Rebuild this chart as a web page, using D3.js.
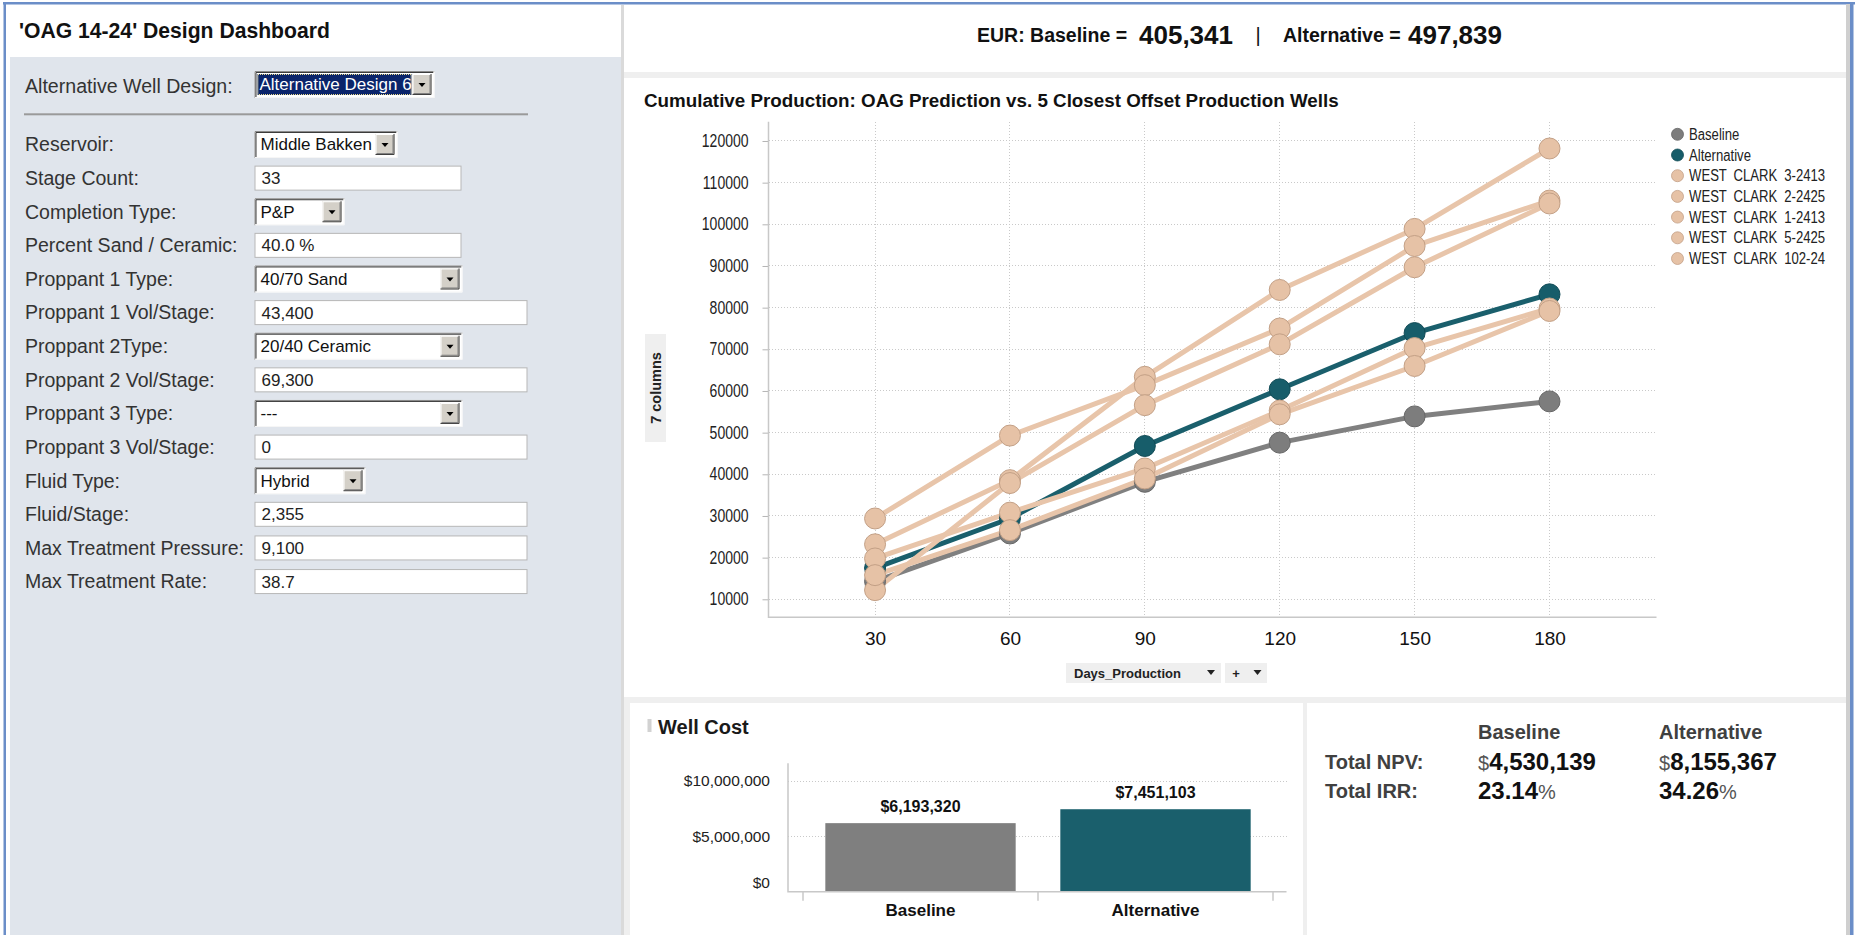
<!DOCTYPE html>
<html>
<head>
<meta charset="utf-8">
<script src="https://cdn.jsdelivr.net/npm/d3@7"></script>
<style>
  html, body { margin: 0; padding: 0; background: #fff; overflow: hidden; }
  svg { display: block; font-family: "Liberation Sans", Arial, sans-serif; }
</style>
</head>
<body>
<svg id="dash" width="1858" height="935"></svg>
<script>
// ---------------- data ----------------
const days = [30, 60, 90, 120, 150, 180];
const baselineCum    = [14300, 25800, 38200, 47600, 53900, 57500];
const alternativeCum = [17500, 29400, 46800, 60400, 73900, 83200];
const wellNames = ["WEST CLARK 3-2413", "WEST CLARK 2-2425", "WEST CLARK 1-2413", "WEST CLARK 5-2425", "WEST CLARK 102-24"];
const wc3_2413  = [23200, 38600, 63400, 84250, 98900, 118200];
const wc2_2425  = [29400, 49300, 61400, 75000, 94800, 105700];
const wc1_2413  = [12200, 37900, 56600, 71200, 89700, 105000];
const wc5_2425  = [19800, 30800, 41400, 55300, 70300, 79800];
const wc102_24  = [15800, 26600, 39000, 54400, 66000, 79200];
const yTicks = [10000, 20000, 30000, 40000, 50000, 60000, 70000, 80000, 90000, 100000, 110000, 120000];

const costCategories = ["Baseline", "Alternative"];
const wellCost = [6193320, 7451103];
const costTicks = [0, 5000000, 10000000];

const eurBaseline = 405341;
const eurAlternative = 497839;
const npvValues = [4530139, 8155367];
const irrValues = [23.14, 34.26];

const designChoice = "Alternative Design 6";
const formLabels = ["Reservoir:", "Stage Count:", "Completion Type:", "Percent Sand / Ceramic:",
  "Proppant 1 Type:", "Proppant 1 Vol/Stage:", "Proppant 2Type:", "Proppant 2 Vol/Stage:",
  "Proppant 3 Type:", "Proppant 3 Vol/Stage:", "Fluid Type:", "Fluid/Stage:",
  "Max Treatment Pressure:", "Max Treatment Rate:"];
const formValues = ["Middle Bakken", "33", "P&P", "40.0 %", "40/70 Sand", "43,400", "20/40 Ceramic",
  "69,300", "---", "0", "Hybrid", "2,355", "9,100", "38.7"];
const formKinds = ["select", "input", "select", "input", "select", "input", "select",
  "input", "select", "input", "select", "input", "input", "input"];

// ---------------- helpers ----------------
const W = 1858, H = 935;
const svg = d3.select("#dash");
const NARROW = '"Liberation Sans Narrow", "Liberation Sans", sans-serif';

// is a narrow face installed? otherwise squeeze the regular glyphs
const probeA = svg.append("text").attr("font-family", NARROW).attr("font-size", 20).text("0000000000");
const probeB = svg.append("text").attr("font-family", '"Liberation Sans", sans-serif').attr("font-size", 20).text("0000000000");
const hasNarrow = probeA.node().getComputedTextLength() < 0.93 * probeB.node().getComputedTextLength();
probeA.remove(); probeB.remove();

function narrowText(g, x, y, txt, size, anchor, fill, weight) {
  const t = g.append("text").attr("font-size", size).attr("fill", fill || "#222")
    .attr("text-anchor", anchor || "start").attr("font-weight", weight || "normal").text(txt);
  if (hasNarrow) {
    t.attr("font-family", NARROW).attr("x", x).attr("y", y);
  } else {
    t.attr("transform", `translate(${x},${y}) scale(0.82,1)`);
  }
  return t;
}

function fitWidth(t, target) {
  const w = t.node().getComputedTextLength();
  const fs = parseFloat(t.attr("font-size"));
  t.attr("font-size", (fs * target / w).toFixed(2));
}

// ---------------- page frame ----------------
svg.append("rect").attr("width", W).attr("height", H).attr("fill", "#fff");
svg.append("rect").attr("x", 10).attr("y", 57).attr("width", 611).attr("height", H - 57).attr("fill", "#e0e5ec");
svg.append("rect").attr("x", 621).attr("y", 5).attr("width", 3).attr("height", H).attr("fill", "#dadada");
svg.append("rect").attr("x", 624).attr("y", 72).attr("width", 1224).attr("height", 6).attr("fill", "#efefef");
svg.append("rect").attr("x", 624).attr("y", 697).attr("width", 1224).attr("height", 6).attr("fill", "#efefef");
svg.append("rect").attr("x", 1303).attr("y", 697).attr("width", 4).attr("height", H - 697).attr("fill", "#efefef");
svg.append("rect").attr("x", 624).attr("y", 697).attr("width", 6).attr("height", H - 697).attr("fill", "#efefef");
// outer frame
svg.append("rect").attr("x", 3).attr("y", 2).attr("width", 1852).attr("height", 2.5).attr("fill", "#6b8ec8");
svg.append("rect").attr("x", 3.5).attr("y", 2).attr("width", 2.5).attr("height", H).attr("fill", "#6b8ec8");
svg.append("rect").attr("x", 1846).attr("y", 4).attr("width", 4).attr("height", H).attr("fill", "#cfcfcf");
svg.append("rect").attr("x", 1850).attr("y", 2).attr("width", 3.5).attr("height", H).attr("fill", "#6b8ec8");

// ---------------- left: design form ----------------
const form = svg.append("g");
const dashTitle = form.append("text").attr("x", 19).attr("y", 38).attr("font-size", 21)
  .attr("font-weight", "bold").attr("fill", "#111").text("'OAG 14-24' Design Dashboard");
fitWidth(dashTitle, 311);

form.append("text").attr("x", 25).attr("y", 85.7).attr("dy", "0.35em").attr("font-size", 19.6)
  .attr("fill", "#333").text("Alternative Well Design:");

function bevelSunken(g, x, y0, w, h) {
  g.append("rect").attr("x", x).attr("y", y0).attr("width", w).attr("height", h).attr("fill", "#fff");
  g.append("path").attr("d", `M${x + 0.5},${y0 + h}V${y0 + 0.5}H${x + w}`).attr("stroke", "#8a8a8a").attr("fill", "none");
  g.append("path").attr("d", `M${x + 1.5},${y0 + h - 1}V${y0 + 1.5}H${x + w - 1}`).attr("stroke", "#3c3c3c").attr("fill", "none");
  g.append("path").attr("d", `M${x + 0.5},${y0 + h - 0.5}H${x + w - 0.5}V${y0}`).attr("stroke", "#f6f6f6").attr("fill", "none");
}
function dropButton(g, bx, by, bw, bh) {
  g.append("rect").attr("x", bx).attr("y", by).attr("width", bw).attr("height", bh).attr("fill", "#d4d0c8");
  g.append("path").attr("d", `M${bx + 0.5},${by + bh}V${by + 0.5}H${bx + bw}`).attr("stroke", "#fff").attr("fill", "none");
  g.append("path").attr("d", `M${bx},${by + bh - 0.5}H${bx + bw - 0.5}V${by}`).attr("stroke", "#404040").attr("fill", "none");
  g.append("path").attr("d", `M${bx + 1},${by + bh - 1.5}H${bx + bw - 1.5}V${by + 1}`).attr("stroke", "#808080").attr("fill", "none");
  const cx = bx + bw / 2, cy = by + bh / 2 + 0.5;
  g.append("path").attr("d", `M${cx - 3.5},${cy - 2}h7l-3.5,4z`).attr("fill", "#000");
}

// highlighted design selector
{
  const x = 254.5, y0 = 71, w = 180, h = 27;
  bevelSunken(form, x, y0, w, h);
  form.append("rect").attr("x", x + 3).attr("y", y0 + 3).attr("width", w - 26).attr("height", h - 6).attr("fill", "#0a246a");
  form.append("rect").attr("x", x + 3.5).attr("y", y0 + 3.5).attr("width", w - 27).attr("height", h - 7)
    .attr("fill", "none").attr("stroke", "#e8d98a").attr("stroke-dasharray", "1,1");
  form.append("text").attr("x", x + 5).attr("y", y0 + h / 2).attr("dy", "0.35em").attr("font-size", 17)
    .attr("fill", "#fff").text(designChoice);
  dropButton(form, x + w - 22, y0 + 3, 19, h - 6);
}
form.append("rect").attr("x", 24).attr("y", 113.3).attr("width", 504).attr("height", 2).attr("fill", "#9a9a9a");

const fieldWidths = [143, 207, 90, 207, 208, 273, 208, 273, 208, 273, 111, 273, 273, 273];
formLabels.forEach((lab, i) => {
  const yc = 144.5 + i * 33.62;
  form.append("text").attr("x", 25).attr("y", yc).attr("dy", "0.35em").attr("font-size", 19.5)
    .attr("fill", "#333").text(lab);
  const x = 254.5, w = fieldWidths[i];
  if (formKinds[i] === "select") {
    const h = 27, y0 = yc - h / 2;
    bevelSunken(form, x, y0, w, h);
    dropButton(form, x + w - 22, y0 + 3, 19, h - 6);
    form.append("text").attr("x", x + 6).attr("y", yc).attr("dy", "0.35em").attr("font-size", 17)
      .attr("fill", "#111").text(formValues[i]);
  } else {
    const h = 25, y0 = yc - h / 2;
    form.append("rect").attr("x", x + 0.5).attr("y", y0 + 0.5).attr("width", w - 1).attr("height", h - 1)
      .attr("fill", "#fff").attr("stroke", "#b7b7b7");
    form.append("text").attr("x", x + 7).attr("y", yc).attr("dy", "0.35em").attr("font-size", 17)
      .attr("fill", "#222").text(formValues[i]);
  }
});

// ---------------- EUR header ----------------
const fmtInt = d3.format(",");
const eur = svg.append("g").attr("fill", "#111").attr("font-weight", "bold");
eur.append("text").attr("x", 977).attr("y", 42).attr("font-size", 19.5).text("EUR: Baseline =");
eur.append("text").attr("x", 1139).attr("y", 43.5).attr("font-size", 26).text(fmtInt(eurBaseline));
eur.append("text").attr("x", 1258).attr("y", 42).attr("font-size", 20).attr("font-weight", "normal")
  .attr("text-anchor", "middle").text("|");
eur.append("text").attr("x", 1283).attr("y", 42).attr("font-size", 19.5).text("Alternative =");
eur.append("text").attr("x", 1408).attr("y", 43.5).attr("font-size", 26).text(fmtInt(eurAlternative));

// ---------------- cumulative production line chart ----------------
const chartTitle = svg.append("text").attr("x", 644).attr("y", 107).attr("font-size", 15)
  .attr("font-weight", "bold").attr("fill", "#111")
  .text("Cumulative Production: OAG Prediction vs. 5 Closest Offset Production Wells");
fitWidth(chartTitle, 695);

const plot = { left: 768.5, right: 1656.5, top: 121.7, bottom: 617.3 };
const x = d3.scaleLinear().domain([6.3, 203.8]).range([plot.left, plot.right]);
const y = d3.scaleLinear().domain([5680, 124630]).range([plot.bottom, plot.top]);

const chart = svg.append("g");
// grid
chart.append("g").selectAll("line").data(yTicks).join("line")
  .attr("x1", plot.left).attr("x2", plot.right).attr("y1", d => y(d)).attr("y2", d => y(d))
  .attr("stroke", "#c9c9c9").attr("stroke-dasharray", "1,2").attr("shape-rendering", "crispEdges");
chart.append("g").selectAll("line").data(days).join("line")
  .attr("x1", d => x(d)).attr("x2", d => x(d)).attr("y1", plot.top).attr("y2", plot.bottom)
  .attr("stroke", "#c9c9c9").attr("stroke-dasharray", "1,2").attr("shape-rendering", "crispEdges");

// axes
const yAxis = chart.append("g").attr("transform", `translate(${plot.left},0)`)
  .call(d3.axisLeft(y).tickValues(yTicks).tickSize(6).tickPadding(14).tickFormat(d3.format("d")));
yAxis.select(".domain").remove();
yAxis.selectAll(".tick line").attr("stroke", "#b5b5b5");
yAxis.selectAll(".tick text").each(function () {
  const t = d3.select(this);
  t.attr("font-size", 17.5).attr("fill", "#222").attr("font-family", null);
  if (hasNarrow) {
    t.attr("font-family", NARROW);
  } else {
    t.attr("transform", "translate(-20,0) scale(0.8,1)").attr("x", 0);
  }
});
const xAxis = chart.append("g").attr("transform", `translate(0,${plot.bottom})`)
  .call(d3.axisBottom(x).tickValues(days).tickSize(0).tickPadding(14));
xAxis.select(".domain").remove();
xAxis.selectAll(".tick text").attr("font-size", 19).attr("fill", "#111").attr("font-family", null);

chart.append("path").attr("d", `M${plot.left},${plot.top}V${plot.bottom}H${plot.right}`)
  .attr("fill", "none").attr("stroke", "#c8c8c8").attr("stroke-width", 1.5);

// series
const peach = { line: "#e8c5aa", fill: "#e6c2a6", stroke: "#c3a086" };
const series = [
  { name: "Baseline", values: baselineCum, line: "#808080", fill: "#7d7d7d", stroke: "#676767" },
  { name: "Alternative", values: alternativeCum, line: "#1a5f6c", fill: "#175d6a", stroke: "#114b56" },
  { name: wellNames[0], values: wc3_2413, ...peach },
  { name: wellNames[1], values: wc2_2425, ...peach },
  { name: wellNames[2], values: wc1_2413, ...peach },
  { name: wellNames[3], values: wc5_2425, ...peach },
  { name: wellNames[4], values: wc102_24, ...peach }
];
const line = d3.line().x((d, i) => x(days[i])).y(d => y(d));
series.forEach(s => {
  chart.append("path").attr("d", line(s.values)).attr("fill", "none")
    .attr("stroke", s.line).attr("stroke-width", 5).attr("stroke-linejoin", "round");
});
series.forEach(s => {
  chart.append("g").selectAll("circle").data(s.values).join("circle")
    .attr("cx", (d, i) => x(days[i])).attr("cy", d => y(d)).attr("r", 10.5)
    .attr("fill", s.fill).attr("stroke", s.stroke).attr("stroke-width", 1);
});

// legend
const legend = svg.append("g");
series.forEach((s, i) => {
  const yy = 134.3 + i * 20.7;
  legend.append("circle").attr("cx", 1677.5).attr("cy", yy).attr("r", 6)
    .attr("fill", s.fill).attr("stroke", s.stroke).attr("stroke-width", 0.8);
  narrowText(legend, 1689, yy + 5.5, s.name, 16, "start", "#222").attr("word-spacing", 4);
});

// y title tab
svg.append("rect").attr("x", 645).attr("y", 334).attr("width", 21).attr("height", 108).attr("fill", "#efefef");
svg.append("text").attr("transform", "translate(660.5,388) rotate(-90)").attr("text-anchor", "middle")
  .attr("font-size", 14.5).attr("font-weight", "bold").attr("fill", "#222").text("7 columns");

// x selector tabs
svg.append("rect").attr("x", 1066).attr("y", 663).attr("width", 155).attr("height", 20).attr("fill", "#efefef");
svg.append("text").attr("x", 1074).attr("y", 677.5).attr("font-size", 13).attr("font-weight", "bold")
  .attr("fill", "#222").text("Days_Production");
svg.append("path").attr("d", "M1207,670h8l-4,5z").attr("fill", "#222");
svg.append("rect").attr("x", 1225).attr("y", 663).attr("width", 42).attr("height", 20).attr("fill", "#efefef");
svg.append("text").attr("x", 1236).attr("y", 677.5).attr("font-size", 13).attr("font-weight", "bold")
  .attr("text-anchor", "middle").attr("fill", "#222").text("+");
svg.append("path").attr("d", "M1253.5,670h8l-4,5z").attr("fill", "#222");

// ---------------- well cost bar chart ----------------
const cost = svg.append("g");
cost.append("rect").attr("x", 647.5).attr("y", 719).attr("width", 4).attr("height", 13).attr("fill", "#d2d2d2");
cost.append("text").attr("x", 658).attr("y", 733.5).attr("font-size", 20).attr("font-weight", "bold")
  .attr("fill", "#1a1a1a").text("Well Cost");

const cb = { left: 788, right: 1286.5, top: 763.3, bottom: 891.7 };
const cy = d3.scaleLinear().domain([0, 11600000]).range([cb.bottom, cb.top]);
const cx = d3.scaleBand().domain(costCategories).range([803, 1273]).paddingInner(0.19).paddingOuter(0.095);

cost.append("g").selectAll("line").data(costTicks.filter(d => d > 0)).join("line")
  .attr("x1", cb.left).attr("x2", cb.right).attr("y1", d => cy(d)).attr("y2", d => cy(d))
  .attr("stroke", "#c9c9c9").attr("stroke-dasharray", "1,2").attr("shape-rendering", "crispEdges");

const cyAxis = cost.append("g").attr("transform", `translate(${cb.left},0)`)
  .call(d3.axisLeft(cy).tickValues(costTicks).tickSize(0).tickPadding(18).tickFormat(d => "$" + fmtInt(d)));
cyAxis.select(".domain").remove();
cyAxis.selectAll(".tick text").attr("font-size", 15.5).attr("fill", "#222").attr("font-family", null);
cyAxis.selectAll(".tick").filter(d => d === 0).select("text").attr("dy", "-0.25em");

const barColors = ["#7f7f7f", "#1a5f6c"];
cost.append("g").selectAll("rect").data(wellCost).join("rect")
  .attr("x", (d, i) => cx(costCategories[i])).attr("width", cx.bandwidth())
  .attr("y", d => cy(d)).attr("height", d => cb.bottom - cy(d))
  .attr("fill", (d, i) => barColors[i]);
cost.append("g").selectAll("text").data(wellCost).join("text")
  .attr("x", (d, i) => cx(costCategories[i]) + cx.bandwidth() / 2).attr("y", d => cy(d) - 11)
  .attr("text-anchor", "middle").attr("font-size", 16).attr("font-weight", "bold").attr("fill", "#111")
  .text(d => "$" + fmtInt(d));

cost.append("path").attr("d", `M${cb.left},${cb.top}V${cb.bottom}H${cb.right}`)
  .attr("fill", "none").attr("stroke", "#c8c8c8").attr("stroke-width", 1.5);
const bandEdges = [803, 1038, 1273];
cost.append("g").selectAll("line").data(bandEdges).join("line")
  .attr("x1", d => d).attr("x2", d => d).attr("y1", cb.bottom).attr("y2", cb.bottom + 9)
  .attr("stroke", "#c8c8c8").attr("stroke-width", 1.5);
cost.append("g").selectAll("text").data(costCategories).join("text")
  .attr("x", d => cx(d) + cx.bandwidth() / 2).attr("y", 916)
  .attr("text-anchor", "middle").attr("font-size", 17).attr("font-weight", "bold").attr("fill", "#111")
  .text(d => d);

// ---------------- NPV / IRR summary ----------------
const sum = svg.append("g").attr("font-weight", "bold");
const colX = [1478, 1659];
costCategories.forEach((c, i) => {
  sum.append("text").attr("x", colX[i]).attr("y", 739).attr("font-size", 20).attr("fill", "#404040").text(c);
  const npvT = sum.append("text").attr("x", colX[i]).attr("y", 770);
  npvT.append("tspan").attr("font-size", 20).attr("font-weight", "normal").attr("fill", "#555").text("$");
  npvT.append("tspan").attr("font-size", 24).attr("fill", "#111").text(fmtInt(npvValues[i]));
  const irrT = sum.append("text").attr("x", colX[i]).attr("y", 798.5);
  irrT.append("tspan").attr("font-size", 24).attr("fill", "#111").text(irrValues[i].toFixed(2));
  irrT.append("tspan").attr("font-size", 20).attr("font-weight", "normal").attr("fill", "#555").text("%");
});
sum.append("text").attr("x", 1325).attr("y", 769).attr("font-size", 20).attr("fill", "#404040").text("Total NPV:");
sum.append("text").attr("x", 1325).attr("y", 797.5).attr("font-size", 20).attr("fill", "#404040").text("Total IRR:");
</script>
</body>
</html>
